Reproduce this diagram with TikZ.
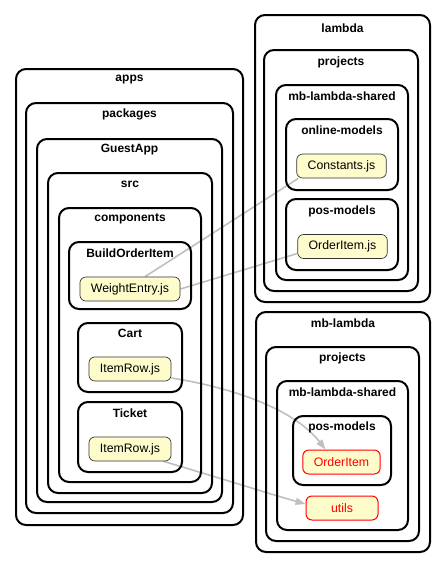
\documentclass[tikz,border=0pt]{standalone}
\usepackage{fontspec}
\setmainfont{Liberation Sans}
\usetikzlibrary{arrows.meta}
\pgfdeclarelayer{background}
\pgfsetlayers{background,main}
\tikzset{
  cluster/.style={draw=black,line width=2pt,rounded corners=10pt},
  clabel/.style={font=\fontsize{12}{14}\selectfont\bfseries,inner sep=0pt},
  file/.style={draw=black!80,line width=0.7pt,fill=yellow!20,rounded corners=6pt,
    font=\fontsize{12.3}{14}\selectfont,inner xsep=11pt,inner ysep=0pt,minimum height=24pt},
  missing/.style={file,draw=red,text=red,line width=1pt},
  dep/.style={draw=gray!50,line width=1.6pt},
  deparrow/.style={dep,-{Triangle[length=10pt,width=7pt]}}
}
\begin{document}
\begin{tikzpicture}[x=1pt,y=-1pt]
    \useasboundingbox (0,0) rectangle (445,568);
        % left side: apps
        \draw[cluster] (16,69) rectangle (243,525);
        \draw[cluster] (26,103) rectangle (233,513);
        \draw[cluster] (37,139) rectangle (222,502);
        \draw[cluster] (48,173) rectangle (212,493);
        \draw[cluster] (59,208) rectangle (201,482);
        \draw[cluster] (69,242) rectangle (191,309);
        \draw[cluster] (78,323) rectangle (182,392);
        \draw[cluster] (78,402) rectangle (182,472);
        \node[clabel] (apps) at (129.5,80) {apps};
        \node[clabel] (packages) at (129.5,114) {packages};
        \node[clabel] (guestapp) at (129.5,150) {GuestApp};
        \node[clabel] (src) at (130,184) {src};
        \node[clabel] (components) at (130,219) {components};
        \node[clabel] (buildorderitem) at (130,253) {BuildOrderItem};
        \node[clabel] (cart) at (130,333) {Cart};
        \node[clabel] (ticket) at (130,413) {Ticket};
        \node[file] (weightentry) at (130,289) {WeightEntry.js};
        \node[file] (cartrow) at (130,369) {ItemRow.js};
        \node[file] (ticketrow) at (130,449) {ItemRow.js};
        % right side, top: lambda
        \draw[cluster] (255,15) rectangle (430,302);
        \draw[cluster] (264,50) rectangle (418,291);
        \draw[cluster] (276,85) rectangle (408,280);
        \draw[cluster] (286,119) rectangle (398,190);
        \draw[cluster] (286,199) rectangle (398,270);
        \node[clabel] (lambda) at (342.5,28) {lambda};
        \node[clabel] (projectsa) at (341,62) {projects};
        \node[clabel] (sharedA) at (342,96) {mb-lambda-shared};
        \node[clabel] (onlinemodels) at (342,130) {online-models};
        \node[clabel] (posmodelsa) at (342,211) {pos-models};
        \node[file] (constants) at (341.5,166) {Constants.js};
        \node[file] (orderitemjs) at (342.5,246.5) {OrderItem.js};
        % right side, bottom: mb-lambda
        \draw[cluster] (256,312) rectangle (430,552);
        \draw[cluster] (266,347) rectangle (419,541);
        \draw[cluster] (277,381) rectangle (408,530);
        \draw[cluster] (293,416) rectangle (391,485);
        \node[clabel] (mblambda) at (343,323) {mb-lambda};
        \node[clabel] (projectsb) at (342.5,358) {projects};
        \node[clabel] (sharedB) at (342.5,392) {mb-lambda-shared};
        \node[clabel] (posmodelsb) at (342,427) {pos-models};
        \node[missing,minimum width=77pt] (orderitem) at (341.5,462) {OrderItem};
        \node[missing,minimum width=72pt] (utils) at (342,508) {utils};
        % dependencies
        \begin{pgfonlayer}{background}
        \draw[dep] ([xshift=15pt]weightentry.north) -- ([xshift=2pt]constants.south west);
        \draw[dep] (weightentry.east) -- ([yshift=-7pt]orderitemjs.west);
        \draw[deparrow] ([yshift=-9pt]cartrow.east) .. controls (235,388) and (295,410) .. ([xshift=-16pt]orderitem.north);
        \draw[deparrow] ([xshift=-8pt]ticketrow.south east) .. controls (220,478) and (270,494) .. ([yshift=4pt]utils.west);
        \end{pgfonlayer}
    \end{tikzpicture}
\end{document}
